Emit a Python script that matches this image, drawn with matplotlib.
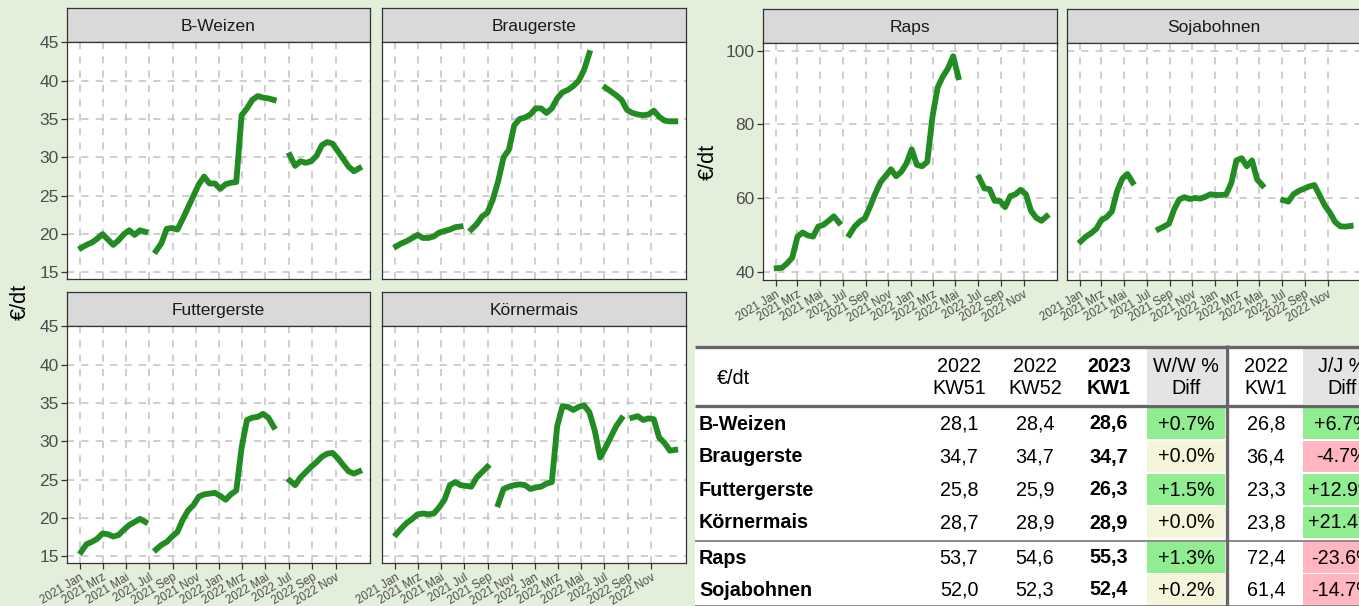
import numpy as np
import pandas as pd
import matplotlib
matplotlib.use("Agg")
import matplotlib.pyplot as plt
from matplotlib.patches import Rectangle

plt.rcParams['font.family'] = ['Liberation Sans', 'DejaVu Sans']

W, H = 1359, 606
nan = np.nan

# biweekly price readings, Jan 2021 .. Jan 2023 (gaps = no quotes)
dates = pd.date_range("2021-01-04", periods=53, freq="14D")

b_weizen = [18.2, 18.6, 18.9, 19.4, 20.0, 19.3, 18.6, 19.2, 20.0, 20.5, 19.9, 20.5, 20.3, nan,
            17.8, 18.8, 20.7, 20.8, 20.6, 22.0, 23.5, 25.0, 26.5, 27.5, 26.6, 26.6, 25.9, 26.5,
            26.7, 26.8, 35.5, 36.4, 37.5, 38.0, 37.8, 37.7, 37.5, nan, nan, 30.3, 28.9, 29.5,
            29.3, 29.5, 30.2, 31.6, 32.0, 31.8, 30.8, 29.8, 28.8, 28.2, 28.6]
braugerste = [18.4, 18.8, 19.1, 19.5, 19.9, 19.5, 19.5, 19.7, 20.2, 20.4, 20.6, 20.9, 21.0, nan,
              20.6, 21.3, 22.3, 22.8, 24.5, 26.9, 30.0, 31.0, 34.2, 35.0, 35.2, 35.6, 36.4, 36.4,
              35.8, 36.4, 37.7, 38.5, 38.8, 39.3, 40.0, 41.4, 43.6, nan, nan, 39.1, 38.6, 38.1,
              37.5, 36.2, 35.8, 35.6, 35.5, 35.6, 36.1, 35.3, 34.8, 34.7, 34.7]
futtergerste = [15.6, 16.6, 16.9, 17.3, 18.0, 17.9, 17.6, 17.8, 18.5, 19.1, 19.5, 19.9, 19.5, nan,
                15.9, 16.5, 16.9, 17.6, 18.2, 19.8, 21.0, 21.7, 22.8, 23.1, 23.2, 23.3, 22.9, 22.4,
                23.1, 23.6, 29.2, 32.8, 33.1, 33.2, 33.6, 33.1, 31.9, nan, nan, 24.9, 24.3, 25.3,
                26.0, 26.7, 27.3, 28.0, 28.4, 28.5, 27.8, 26.9, 26.1, 25.8, 26.1]
koernermais = [17.9, 18.7, 19.4, 19.9, 20.5, 20.6, 20.5, 20.6, 21.4, 22.4, 24.3, 24.7, 24.3, 24.2,
               24.1, 25.3, 26.0, 26.7, nan, 21.8, 23.8, 24.1, 24.3, 24.4, 24.3, 23.8, 24.0, 24.1,
               24.5, 24.7, 32.0, 34.6, 34.5, 34.1, 34.5, 34.7, 33.8, 31.4, 27.9, 29.2, 30.6, 32.0,
               33.0, nan, 33.1, 33.3, 32.8, 33.0, 32.9, 30.5, 29.8, 28.8, 28.9]
raps = [40.9, 41.0, 42.2, 43.8, 49.5, 50.6, 49.8, 49.5, 52.2, 52.7, 53.8, 55.0, 53.3, nan,
        50.0, 52.2, 53.6, 54.5, 57.7, 61.2, 64.3, 66.0, 67.8, 65.9, 67.1, 69.4, 73.2, 69.0,
        68.6, 69.8, 82.0, 90.0, 93.0, 95.2, 98.5, 92.8, nan, nan, nan, 65.5, 62.6, 62.4,
        59.2, 59.2, 57.5, 60.5, 61.0, 62.2, 61.0, 56.5, 54.6, 53.8, 55.0]
sojabohnen = [48.2, 49.5, 50.4, 51.6, 54.0, 54.8, 56.3, 61.8, 65.2, 66.5, 64.2, nan, nan, nan,
              nan, 51.5, 52.2, 53.0, 56.9, 59.6, 60.2, 59.7, 60.0, 59.8, 60.3, 61.0, 60.8, 60.8,
              60.9, 64.0, 70.2, 70.8, 68.6, 70.2, 65.0, 63.4, nan, nan, nan, 59.4, 59.0, 61.0,
              61.9, 62.5, 63.1, 63.5, 60.8, 58.0, 56.0, 53.5, 52.3, 52.2, 52.4]

tick_dates = pd.to_datetime(["2021-01-01", "2021-03-01", "2021-05-01", "2021-07-01",
                             "2021-09-01", "2021-11-01", "2022-01-01", "2022-03-01",
                             "2022-05-01", "2022-07-01", "2022-09-01", "2022-11-01"])
tick_labels = ["2021 Jan", "2021 Mrz", "2021 Mai", "2021 Jul", "2021 Sep", "2021 Nov",
               "2022 Jan", "2022 Mrz", "2022 Mai", "2022 Jul", "2022 Sep", "2022 Nov"]
grain_ticks = [15, 20, 25, 30, 35, 40, 45]
oil_ticks = [40, 60, 80, 100]

# table
products = ["B-Weizen", "Braugerste", "Futtergerste", "Körnermais", "Raps", "Sojabohnen"]
kw51_2022 = [28.1, 34.7, 25.8, 28.7, 53.7, 52.0]
kw52_2022 = [28.4, 34.7, 25.9, 28.9, 54.6, 52.3]
kw1_2023 = [28.6, 34.7, 26.3, 28.9, 55.3, 52.4]
ww_diff = [0.7, 0.0, 1.5, 0.0, 1.3, 0.2]
kw1_2022 = [26.8, 36.4, 23.3, 23.8, 72.4, 61.4]
jj_diff = [6.7, -4.7, 12.9, 21.4, -23.6, -14.7]

BG = '#E3EFDA'
LINE = '#228B22'
xlim = (pd.Timestamp("2020-11-28"), pd.Timestamp("2023-01-30"))


def px(l, t, r, b):
    return [l / W, 1 - b / H, (r - l) / W, (b - t) / H]


fig = plt.figure(figsize=(W / 100, H / 100), dpi=100, facecolor=BG)

# ---- table (drawn in pixel coordinates) ----
tab = fig.add_axes([0, 0, 1, 1])
tab.set_xlim(0, W)
tab.set_ylim(H, 0)
tab.axis('off')


def cell_color(v):
    if v > 0.5:
        return '#90EE90'
    if v < -0.5:
        return '#FFB6C1'
    return '#F5F5DC'


def fmt(v):
    return f"{v:.1f}".replace(".", ",")


tab.add_patch(Rectangle((695, 346), 700, 262, facecolor='white', edgecolor='none'))
tab.add_patch(Rectangle((1147, 348), 78, 56, facecolor='#E4E4E4', edgecolor='none'))
tab.add_patch(Rectangle((1303, 348), 80, 56, facecolor='#E4E4E4', edgecolor='none'))
tab.plot([695, 1359], [346.5, 346.5], color='#666666', lw=2.4, solid_capstyle='butt')
tab.plot([695, 1359], [406, 406], color='#666666', lw=2.4, solid_capstyle='butt')
tab.plot([695, 1359], [540.5, 540.5], color='#777777', lw=1.2, solid_capstyle='butt')
tab.plot([695, 1359], [605.5, 605.5], color='#777777', lw=1.2, solid_capstyle='butt')
tab.plot([1227, 1227], [345, 606], color='#666666', lw=2.4, solid_capstyle='butt')

fs = 14.2
tab.text(717, 378, "€/dt", fontsize=fs, ha='left', va='center')
tab.text(959, 377, "2022\nKW51", fontsize=fs, ha='center', va='center', linespacing=1.2)
tab.text(1035, 377, "2022\nKW52", fontsize=fs, ha='center', va='center', linespacing=1.2)
tab.text(1109, 377, "2023\nKW1", fontsize=fs, ha='center', va='center', linespacing=1.2,
         fontweight='bold')
tab.text(1186, 377, "W/W %\nDiff", fontsize=fs, ha='center', va='center', linespacing=1.2)
tab.text(1266, 377, "2022\nKW1", fontsize=fs, ha='center', va='center', linespacing=1.2)
tab.text(1342, 377, "J/J %\nDiff", fontsize=fs, ha='center', va='center', linespacing=1.2)

row_top = [408, 441, 474, 507, 542, 574]
row_h = 32
for i, name in enumerate(products):
    top = row_top[i]
    yc = top + row_h / 2
    tab.add_patch(Rectangle((1147, top), 78, row_h - 1, facecolor=cell_color(ww_diff[i]),
                            edgecolor='none'))
    tab.add_patch(Rectangle((1303, top), 80, row_h - 1, facecolor=cell_color(jj_diff[i]),
                            edgecolor='none'))
    tab.text(699, yc, name, fontsize=fs, fontweight='bold', ha='left', va='center')
    tab.text(959, yc, fmt(kw51_2022[i]), fontsize=fs, ha='center', va='center')
    tab.text(1035, yc, fmt(kw52_2022[i]), fontsize=fs, ha='center', va='center')
    tab.text(1109, yc, fmt(kw1_2023[i]), fontsize=fs, ha='center', va='center',
             fontweight='bold')
    tab.text(1186, yc, f"{ww_diff[i]:+.1f}%", fontsize=fs, ha='center', va='center')
    tab.text(1266, yc, fmt(kw1_2022[i]), fontsize=fs, ha='center', va='center')
    tab.text(1342, yc, f"{jj_diff[i]:+.1f}%", fontsize=fs, ha='center', va='center')


# ---- facet panels ----
def panel(l, t, r, b, title, vals, ylim, yticks, show_y, show_x):
    sax = fig.add_axes(px(l, t - 34, r, t))
    sax.set_facecolor('#D9D9D9')
    sax.set_xticks([])
    sax.set_yticks([])
    for s in sax.spines.values():
        s.set_color('#333333')
        s.set_linewidth(0.9)
    sax.text(0.5, 0.47, title, transform=sax.transAxes, ha='center', va='center',
             fontsize=12.5, color='#1A1A1A')

    ax = fig.add_axes(px(l, t, r, b))
    ax.set_facecolor('white')
    ax.plot(dates, vals, color=LINE, lw=4.2)
    ax.set_xlim(*xlim)
    ax.set_ylim(*ylim)
    ax.set_yticks(yticks)
    ax.set_xticks(tick_dates)
    ax.set_axisbelow(True)
    ax.grid(True, color='#C4C4C4', linestyle=(0, (4.5, 4.5)), linewidth=1.15)
    for s in ax.spines.values():
        s.set_color('#333333')
        s.set_linewidth(0.9)
    ax.tick_params(length=4, width=0.9, color='#333333', labelcolor='#4D4D4D', pad=2)
    ax.tick_params(axis='y', labelsize=12.5, left=show_y, labelleft=show_y)
    if show_x:
        ax.set_xticklabels(tick_labels, rotation=31, ha='right', rotation_mode='anchor',
                           fontsize=8.4)
    else:
        ax.tick_params(axis='x', bottom=False, labelbottom=False)
    return ax


grain_lim = (14.15, 45.05)
oil_lim = (37.7, 102.1)
panel(67, 42, 370, 279, "B-Weizen", b_weizen, grain_lim, grain_ticks, True, False)
panel(382, 42, 686, 279, "Braugerste", braugerste, grain_lim, grain_ticks, False, False)
panel(67, 326, 370, 563, "Futtergerste", futtergerste, grain_lim, grain_ticks, True, True)
panel(382, 326, 686, 563, "Körnermais", koernermais, grain_lim, grain_ticks, False, True)
panel(763, 43, 1057, 280, "Raps", raps, oil_lim, oil_ticks, True, True)
panel(1067, 43, 1361, 280, "Sojabohnen", sojabohnen, oil_lim, oil_ticks, False, True)

fig.text(20 / W, 1 - 302 / H, "€/dt", rotation=90, ha='center', va='center', fontsize=15.5)
fig.text(708 / W, 1 - 162 / H, "€/dt", rotation=90, ha='center', va='center', fontsize=15.5)

fig.savefig("out.png", dpi=100, facecolor=BG)
